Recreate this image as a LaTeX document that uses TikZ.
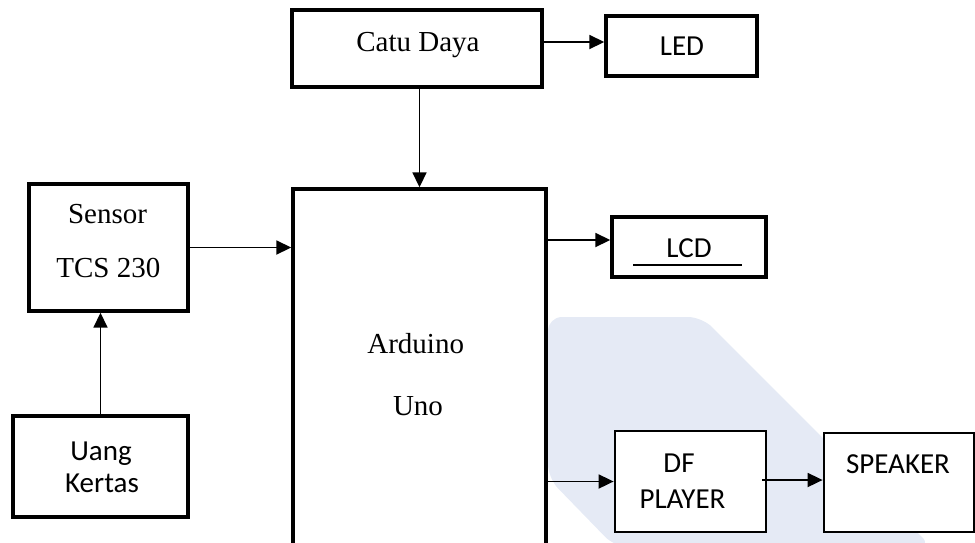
\documentclass[tikz,border=0pt]{standalone}
\usepackage{fontspec}
\setmainfont{Liberation Serif}
\newfontfamily\calfont{Carlito}
\usetikzlibrary{arrows.meta,calc}
\definecolor{wmblue}{RGB}{229,234,245}
\tikzset{
  blk/.style={draw, line width=3.4pt, fill=white, inner sep=0pt},
  thinblk/.style={draw, line width=2.8pt, fill=white, inner sep=0pt},
  arr/.style={line width=1.8pt, -{Triangle[length=15pt,width=14pt]}},
  tser/.style={anchor=base, inner sep=0pt, font=\fontsize{29}{31}\selectfont},
  tcal/.style={anchor=base, inner sep=0pt, font=\calfont\fontsize{29}{31}\selectfont},
}
\begin{document}
\begin{tikzpicture}[x=1pt,y=-1pt]
\useasboundingbox (0,0) rectangle (975,542);
\clip (0,0) rectangle (975,542);
% watermark
\fill[wmblue, rounded corners=14pt] (548,317) -- (702,317) -- (932,547) -- (615,547) -- (548,478) -- cycle;
% boxes
\node[blk, minimum width=250pt, minimum height=77pt] (catu) at (417,48.5) {};
\node[blk, minimum width=151pt, minimum height=60pt] (led) at (681.5,46) {};
\node[blk, minimum width=159pt, minimum height=127pt] (sensor) at (108.5,247.5) {};
\node[blk, minimum width=175pt, minimum height=101pt] (uang) at (100.5,466.5) {};
\node[blk, minimum width=253pt, minimum height=411pt] (arduino) at (419.5,394.5) {};
\node[blk, minimum width=154pt, minimum height=60pt] (lcd) at (689,247) {};
\node[thinblk, minimum width=151pt, minimum height=101pt] (df) at (690.5,481.5) {};
\node[thinblk, minimum width=150pt, minimum height=99pt] (speaker) at (899,482.5) {};
% texts
\node[tser] (tcatu) at (418,51) {Catu Daya};
\node[tcal] (tled) at (682,55) {LED};
\node[tser] (tsen1) at (107.5,223) {Sensor};
\node[tser] (tsen2) at (108.3,277) {TCS 230};
\node[tcal] (tuang1) at (101,460) {Uang};
\node[tcal] (tuang2) at (102,492) {Kertas};
\node[tser] (tard1) at (415.7,353) {Arduino};
\node[tser] (tard2) at (418,415) {Uno};
\node[tcal] (tlcd) at (689,257) {LCD};
\node[tcal] (tdf1) at (679,472) {DF};
\node[tcal] (tdf2) at (682.5,508) {PLAYER};
\node[tcal] (tspk) at (898,473) {SPEAKER};
\coordinate (ul1) at (633,265);
\coordinate (ul2) at (742,265);
\draw[line width=1.6pt] (ul1) -- (ul2);
% connectors
\draw[arr] ([yshift=6.5pt]catu.east) -- ([yshift=6.5pt]catu.east -| led.west);
\draw[arr] (catu.south -| arduino.north) -- (arduino.north);
\draw[arr] (sensor.east) -- (sensor.east -| arduino.west);
\draw[arr] (uang.north) -- (uang.north |- sensor.south);
\draw[arr] ([yshift=7pt]lcd.west -| arduino.east) -- ([yshift=7pt]lcd.west);
\draw[arr] (df.west -| arduino.east) -- (df.west);
\draw[arr] ([xshift=-5pt,yshift=1.5pt]df.east) -- ([yshift=1.5pt]df.east -| speaker.west);
\end{tikzpicture}
\end{document}
